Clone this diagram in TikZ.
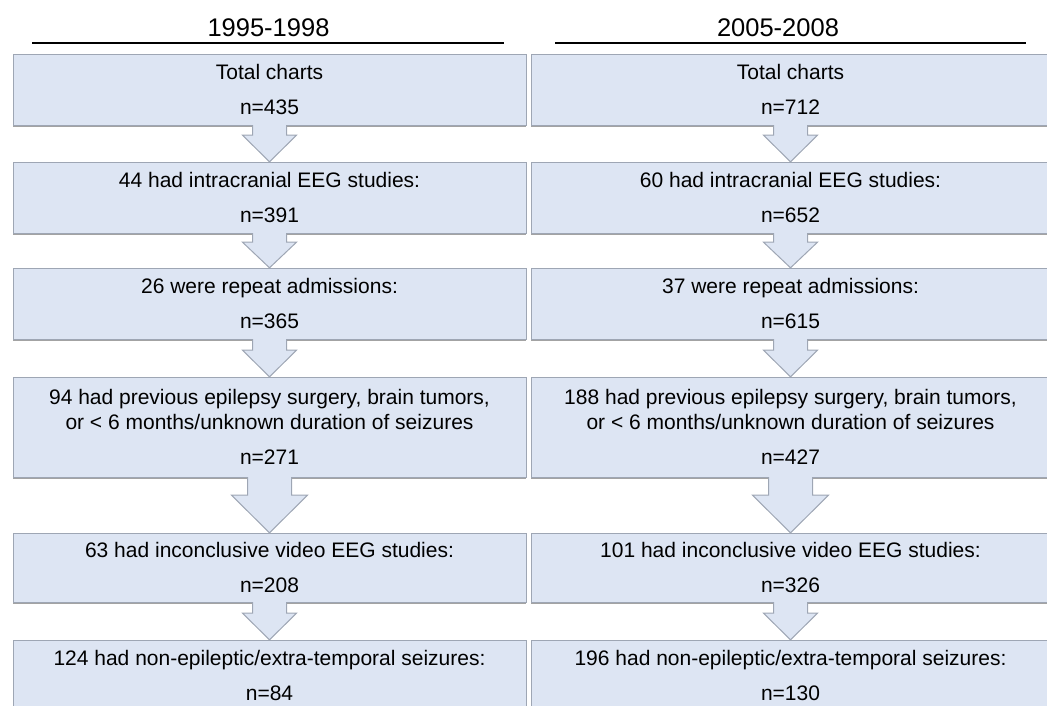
\documentclass[tikz,border=0pt]{standalone}
\usepackage{fontspec}
\setmainfont{Liberation Sans}
\usetikzlibrary{calc, shadows}

\definecolor{boxfill}{RGB}{221,229,243}
\definecolor{boxline}{RGB}{158,166,180}

% block arrow between two boxes: from, to, stem half width, head half width, stem length
\newcommand{\flowarrow}[5]{%
  \path[arrowshape] let \p1=(#1.south), \p2=(#2.north) in
    (\x1-#3pt,\y1) -- (\x1-#3pt,\y1-#5pt) -- (\x1-#4pt,\y1-#5pt) -- (\x1,\y2)
    -- (\x1+#4pt,\y1-#5pt) -- (\x1+#3pt,\y1-#5pt) -- (\x1+#3pt,\y1);
}

\begin{document}
\begin{tikzpicture}[x=1pt, y=-1pt,
    box/.style={rectangle, draw=boxline, fill=boxfill, inner sep=0pt, align=center,
      font=\fontsize{21}{25.5}\selectfont,
      drop shadow={shadow xshift=0pt, shadow yshift=-2pt, fill=black!60, opacity=0.6}},
    leftbox/.style={box, minimum width=513pt},
    rightbox/.style={box, minimum width=519pt},
    period/.style={inner sep=0pt, font=\fontsize{25.5}{30}\selectfont},
    arrowshape/.style={fill=boxfill, draw=boxline, line width=1pt, line join=miter}]
  \useasboundingbox (0,0) rectangle (1047,705);
  \clip (0,0) rectangle (1047,705);

  % headings
  \node[period] (p1) at (268.5,27.5) {1995-1998};
  \node[period] (p2) at (778,27.5) {2005-2008};
  \draw[line width=1.4pt] (32,43) -- (504,43);
  \draw[line width=1.4pt] (555,43) -- (1026,43);

  % 1995-1998
  \node[leftbox, minimum height=71pt] (l1) at (269.5,89.5) {Total charts\\[9.5pt]n=435};
  \node[leftbox, minimum height=71pt] (l2) at (269.5,197.5) {44 had intracranial EEG studies:\\[9.5pt]n=391};
  \node[leftbox, minimum height=71pt] (l3) at (269.5,303.5) {26 were repeat admissions:\\[9.5pt]n=365};
  \node[leftbox, minimum height=100pt] (l4) at (269.5,427) {94 had previous epilepsy surgery, brain tumors,\\or < 6 months/unknown duration of seizures\\[9.5pt]n=271};
  \node[leftbox, minimum height=69pt] (l5) at (269.5,567.5) {63 had inconclusive video EEG studies:\\[9.5pt]n=208};
  \node[leftbox, minimum height=70pt] (l6) at (269.5,675) {124 had non-epileptic/extra-temporal seizures:\\[9.5pt]n=84};

  % 2005-2008
  \node[rightbox, minimum height=71pt] (r1) at (790.5,89.5) {Total charts\\[9.5pt]n=712};
  \node[rightbox, minimum height=71pt] (r2) at (790.5,197.5) {60 had intracranial EEG studies:\\[9.5pt]n=652};
  \node[rightbox, minimum height=71pt] (r3) at (790.5,303.5) {37 were repeat admissions:\\[9.5pt]n=615};
  \node[rightbox, minimum height=100pt] (r4) at (790.5,427) {188 had previous epilepsy surgery, brain tumors,\\or < 6 months/unknown duration of seizures\\[9.5pt]n=427};
  \node[rightbox, minimum height=69pt] (r5) at (790.5,567.5) {101 had inconclusive video EEG studies:\\[9.5pt]n=326};
  \node[rightbox, minimum height=70pt] (r6) at (790.5,675) {196 had non-epileptic/extra-temporal seizures:\\[9.5pt]n=130};

  % arrows
  \flowarrow{l1}{l2}{17}{27}{10}
  \flowarrow{l2}{l3}{17}{27}{9}
  \flowarrow{l3}{l4}{17}{27}{11}
  \flowarrow{l4}{l5}{22}{38}{18}
  \flowarrow{l5}{l6}{17}{27}{11}
  \flowarrow{r1}{r2}{17}{27}{10}
  \flowarrow{r2}{r3}{17}{27}{9}
  \flowarrow{r3}{r4}{17}{27}{11}
  \flowarrow{r4}{r5}{22}{38}{18}
  \flowarrow{r5}{r6}{17}{27}{11}
\end{tikzpicture}
\end{document}
